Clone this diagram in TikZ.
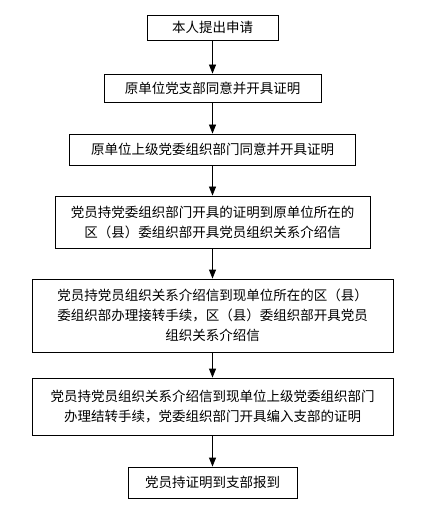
\documentclass[tikz,border=0pt]{standalone}
\usepackage{fontspec}
\setmainfont{Noto Sans CJK SC}
\usepackage{tikz}
\usetikzlibrary{arrows.meta}

\begin{document}
\begin{tikzpicture}[x=1pt,y=-1pt]
\tikzstyle{box}=[draw,shape=rectangle,line width=0.8pt,align=center,inner sep=0pt,font=\fontsize{13.5}{20}\selectfont]
\tikzstyle{arr}=[line width=0.8pt,-{Triangle[length=9pt,width=7pt]}]
%
\useasboundingbox (0,0) rectangle (428,518);
%
\node[box,minimum width=131pt,minimum height=25pt](s1) at (212.5,27.5){本人提出申请};
\node[box,minimum width=217pt,minimum height=28pt](s2) at (212.5,88){原单位党支部同意并开具证明};
\node[box,minimum width=286pt,minimum height=31pt](s3) at (212.5,149.5){原单位上级党委组织部门同意并开具证明};
\node[box,minimum width=315pt,minimum height=52pt](s4) at (212.5,222){党员持党委组织部门开具的证明到原单位所在的\\区（县）委组织部开具党员组织关系介绍信};
\node[box,minimum width=361pt,minimum height=73pt](s5) at (212.5,315.5){党员持党员组织关系介绍信到现单位所在的区（县）\\委组织部办理接转手续，区（县）委组织部开具党员\\组织关系介绍信};
\node[box,minimum width=361pt,minimum height=57pt](s6) at (212.5,406.5){党员持党员组织关系介绍信到现单位上级党委组织部门\\办理结转手续，党委组织部门开具编入支部的证明};
\node[box,minimum width=169pt,minimum height=31pt](s7) at (212.5,482.5){党员持证明到支部报到};
%
\draw[arr] (s1) -- (s2);
\draw[arr] (s2) -- (s3);
\draw[arr] (s3) -- (s4);
\draw[arr] (s4) -- (s5);
\draw[arr] (s5) -- (s6);
\draw[arr] (s6) -- (s7);
\end{tikzpicture}
\end{document}
